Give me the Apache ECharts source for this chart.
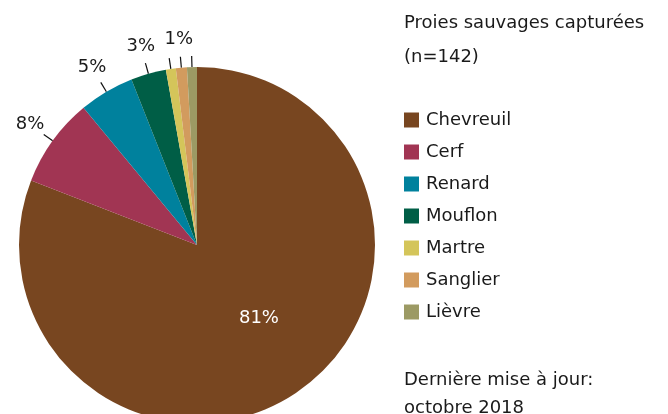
<!DOCTYPE html>
<html>
<head>
<meta charset="utf-8">
<script src="https://cdn.jsdelivr.net/npm/echarts@6/dist/echarts.min.js"></script>
<style>
  html, body { margin: 0; padding: 0; background: #fff; }
  #chart { width: 668px; height: 414px; }
</style>
</head>
<body>
<div id="chart"></div>
<script>
// ---- data ----
const categories = ['Chevreuil', 'Cerf', 'Renard', 'Mouflon', 'Martre', 'Sanglier', 'Lièvre'];
const shares = [80.9, 8.1, 5.0, 3.2, 0.9, 1.0, 0.9]; // % of captured wild prey (n=142)
const colors = ['#784620', '#a13553', '#00819d', '#005e46', '#d4c55a', '#d29b5e', '#9c9a64'];
const labelText = [true, true, true, true, false, true, false]; // one "1%" text shared by the three small slices
const titleText = 'Proies sauvages capturées\n(n=142)';
const footerText = 'Dernière mise à jour:\noctobre 2018';

const FONT = 'DejaVu Sans';
const chart = echarts.init(document.getElementById('chart'), null, { renderer: 'canvas' });

const data = categories.map((name, i) => ({
  name: name,
  value: shares[i],
  itemStyle: { color: colors[i] },
  label: i === 0 ? { position: 'inside', color: '#ffffff' } : {}
}));

chart.setOption({
  animation: false,
  backgroundColor: '#ffffff',
  title: [
    {
      text: titleText, left: 404, top: 6, padding: 0,
      textStyle: { fontFamily: FONT, fontSize: 18, fontWeight: 'normal', color: '#1a1a1a', lineHeight: 34 }
    },
    {
      text: footerText, left: 404, top: 366, padding: 0,
      textStyle: { fontFamily: FONT, fontSize: 18, fontWeight: 'normal', color: '#1a1a1a', lineHeight: 28 }
    }
  ],
  legend: {
    orient: 'vertical', left: 404, top: 111, padding: 0,
    icon: 'rect', itemWidth: 15, itemHeight: 15, itemGap: 14,
    selectedMode: false,
    data: categories,
    textStyle: { fontFamily: FONT, fontSize: 18, color: '#1a1a1a', lineHeight: 15, padding: [0, 0, 0, 2] }
  },
  series: [{
    type: 'pie',
    center: [197, 245],
    radius: 178,
    startAngle: 90,
    clockwise: true,
    avoidLabelOverlap: false,
    data: data,
    label: {
      show: true,
      fontFamily: FONT, fontSize: 18, color: '#1a1a1a',
      formatter: p => labelText[p.dataIndex] ? Math.round(p.value) + '%' : ' '
    },
    labelLine: { show: true, length: 11, length2: 0, smooth: false, lineStyle: { color: '#111111', width: 1.2 } },
    labelLayout: function (p) {
      if (p.dataIndex === 0) return { dx: 10, dy: -3 };
      const pts = p.labelLinePoints;
      if (!pts) return {};
      const a = pts[0], b = pts[1];
      const dx = b[0] - a[0], dy = b[1] - a[1];
      const len = Math.hypot(dx, dy) || 1;
      const dist = 28;
      return {
        x: a[0] + dx / len * dist,
        y: a[1] + dy / len * dist,
        align: 'center',
        verticalAlign: 'middle',
        labelLinePoints: [a, b, b]
      };
    },
    emphasis: { disabled: true }
  }]
});
</script>
</body>
</html>
